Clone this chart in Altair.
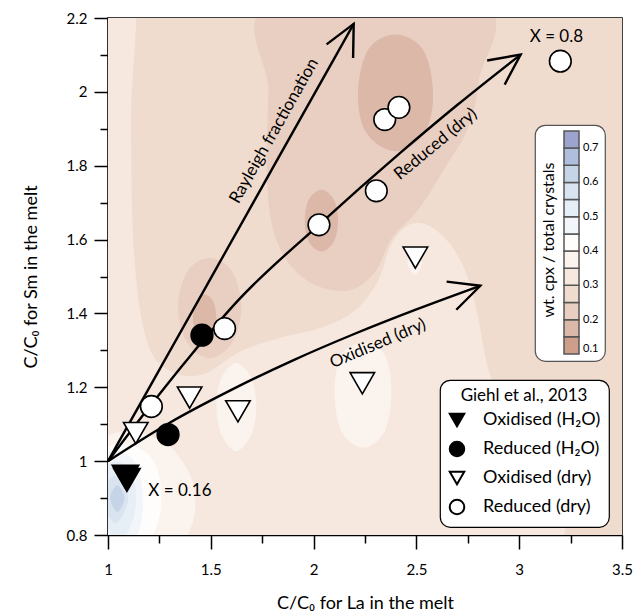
import altair as alt
import pandas as pd

FONT = "Lato"

# ---------------- axis tick values ----------------
x_major = [1, 1.5, 2, 2.5, 3, 3.5]
x_minor = [1.25, 1.75, 2.25, 2.75, 3.25]
y_major = [0.8, 1.0, 1.2, 1.4, 1.6, 1.8, 2.0, 2.2]
y_minor = [0.9, 1.1, 1.3, 1.5, 1.7, 1.9, 2.1]

# ---------------- Giehl et al., 2013 experiments ----------------
series_names = ["Oxidised (H₂O)", "Reduced (H₂O)", "Oxidised (dry)", "Reduced (dry)"]
series_fill = ["black", "black", "white", "white"]
series_shape = ["triangle-down", "circle", "triangle-down", "circle"]
series_size = [700, 470, 600, 470]

ox_h2o_x = [1.085, 1.092]
ox_h2o_y = [0.958, 0.949]
red_h2o_x = [1.457, 1.292]
red_h2o_y = [1.341, 1.072]
ox_dry_x = [1.135, 1.397, 1.632, 2.237, 2.495]
ox_dry_y = [1.076, 1.172, 1.135, 1.211, 1.551]
red_dry_x = [1.211, 1.567, 2.026, 2.305, 2.346, 2.415, 3.200]
red_dry_y = [1.148, 1.359, 1.640, 1.732, 1.925, 1.958, 2.083]

# ---------------- fractionation paths ----------------
rayleigh_x = [1.0, 2.195]
rayleigh_y = [1.0, 2.184]
reduced_x = [1.0, 1.2, 1.4, 1.634, 2.026, 2.42, 2.7, 3.007]
reduced_y = [1.0, 1.146, 1.285, 1.436, 1.640, 1.834, 1.965, 2.101]
oxidised_x = [1.0, 1.3, 1.6, 1.9, 2.2, 2.5, 2.811]
oxidised_y = [1.0, 1.104, 1.193, 1.273, 1.345, 1.411, 1.475]

arrow_names = ["Rayleigh", "Reduced", "Oxidised"]
arrow_tip_x = [2.195, 3.007, 2.811]
arrow_tip_y = [2.184, 2.101, 1.475]
arrow_tip_angle = [27, 54, 71]

# ---------------- annotations ----------------
note_text = ["Rayleigh fractionation", "Reduced (dry)", "Oxidised (dry)", "X = 0.8", "X = 0.16"]
note_x = [1.808, 2.594, 2.313, 3.181, 1.350]
note_y = [1.894, 1.858, 1.318, 2.148, 0.919]
note_angle = [299.4, 320.3, 337, 0, 0]

# ---------------- wt. cpx / total crystals field (contour bands) ----------------
band_domain = [0.1, 0.75]
band_colors = ["#cd9e8a", "#dcb8a9", "#e8cfc1", "#f0dccf", "#f6e8df", "#fbf3ee",
               "#fefdfc", "#f2f6fa", "#e6eef6", "#d9e4f0", "#c6d4e8", "#b0bedd", "#9ca3cd"]
# lower edges of the colour-bar blocks
colorbar_values = [0.1, 0.1501, 0.2001, 0.2501, 0.3001, 0.3501, 0.4001,
                   0.4501, 0.5001, 0.5501, 0.6001, 0.6501, 0.7001]

base_x = [0.3, 4.2, 4.2, 0.3]
base_y = [0.4, 0.4, 2.6, 2.6]
c_x = [0.864, 1.122, 1.112, 1.126, 1.180, 1.277, 1.452, 1.647, 1.841, 2.036, 2.201, 2.313,
       2.376, 2.459, 2.556, 2.668, 2.751, 2.800, 2.848, 2.931, 3.009, 3.077, 0.864]
c_y = [2.303, 2.303, 1.929, 1.569, 1.342, 1.252, 1.233, 1.298, 1.334, 1.361, 1.407, 1.488,
       1.585, 1.639, 1.639, 1.585, 1.496, 1.388, 1.252, 1.117, 0.981, 0.757, 0.678]
b1_x = [1.790, 1.780, 1.772, 1.798, 1.875, 2.007, 2.177, 2.299, 2.381, 2.508, 2.639, 2.751, 2.804, 2.814]
b1_y = [2.235, 2.005, 1.788, 1.639, 1.539, 1.477, 1.463, 1.512, 1.604, 1.680, 1.794, 1.902, 2.032, 2.235]
b2_x = [1.494, 1.603, 1.649, 1.603, 1.494, 1.386, 1.340, 1.386]
b2_y = [1.550, 1.514, 1.415, 1.320, 1.279, 1.320, 1.415, 1.514]
e1_x = [2.398, 2.532, 2.581, 2.540, 2.398, 2.256, 2.216, 2.265]
e1_y = [2.155, 2.114, 1.997, 1.889, 1.839, 1.889, 1.997, 2.114]
e2_x = [2.038, 2.099, 2.119, 2.099, 2.038, 1.976, 1.957, 1.976]
e2_y = [1.735, 1.708, 1.651, 1.595, 1.568, 1.595, 1.651, 1.708]
e3_x = [1.470, 1.511, 1.527, 1.511, 1.470, 1.430, 1.413, 1.430]
e3_y = [1.451, 1.433, 1.388, 1.343, 1.324, 1.343, 1.388, 1.433]
d1_x = [1.624, 1.697, 1.721, 1.697, 1.624, 1.551, 1.527, 1.551]
d1_y = [1.266, 1.225, 1.149, 1.072, 1.027, 1.072, 1.149, 1.225]
d2_x = [2.240, 2.346, 2.378, 2.346, 2.240, 2.135, 2.102, 2.135]
d2_y = [1.320, 1.288, 1.189, 1.081, 1.036, 1.081, 1.189, 1.288]
d3_x = [2.492, 2.527, 2.492, 2.456]
d3_y = [1.568, 1.537, 1.505, 1.537]
d4_x = [1.097, 1.308, 1.422, 1.373, 1.130, 0.903, 0.935]
d4_y = [1.081, 1.036, 0.918, 0.792, 0.738, 0.910, 1.036]
w1_x = [1.081, 1.211, 1.259, 1.227, 1.097, 0.919, 0.951]
w1_y = [1.045, 1.009, 0.918, 0.810, 0.756, 0.900, 1.018]
blue1_x = [1.032, 1.135, 1.170, 1.145, 1.032, 0.903, 0.935]
blue1_y = [1.030, 0.993, 0.900, 0.805, 0.750, 0.891, 0.990]
blue2_x = [1.041, 1.110, 1.138, 1.110, 1.041, 0.935, 0.959]
blue2_y = [1.000, 0.968, 0.900, 0.825, 0.785, 0.896, 0.968]
blue3_x = [1.036, 1.098, 1.036, 0.968]
blue3_y = [0.962, 0.900, 0.832, 0.900]
blue4_x = [1.045, 1.080, 1.045, 1.010]
blue4_y = [0.935, 0.900, 0.862, 0.900]

# (name, band value, drawing depth, xs, ys)
blobs = [
    ("base", 0.275, 0, base_x, base_y),
    ("C", 0.325, 1, c_x, c_y),
    ("B1", 0.225, 2, b1_x, b1_y),
    ("B2", 0.225, 2, b2_x, b2_y),
    ("D1", 0.375, 2, d1_x, d1_y),
    ("D2", 0.375, 2, d2_x, d2_y),
    ("D3", 0.375, 2, d3_x, d3_y),
    ("D4", 0.375, 2, d4_x, d4_y),
    ("E1", 0.175, 3, e1_x, e1_y),
    ("E2", 0.175, 3, e2_x, e2_y),
    ("E3", 0.175, 3, e3_x, e3_y),
    ("W1", 0.425, 3, w1_x, w1_y),
    ("Bl1", 0.475, 4, blue1_x, blue1_y),
    ("Bl2", 0.525, 5, blue2_x, blue2_y),
    ("Bl3", 0.575, 6, blue3_x, blue3_y),
    ("Bl4", 0.625, 7, blue4_x, blue4_y),
]

# ---------------- tables ----------------
rows = []
for name, level, depth, xs, ys in blobs:
    for i, (x, y) in enumerate(zip(xs, ys)):
        rows.append({"blob": name, "level": level, "depth": depth, "i": i, "x": x, "y": y})
contour_df = pd.DataFrame(rows)

prow = []
for s, sz, xs, ys in zip(series_names, series_size, [ox_h2o_x, red_h2o_x, ox_dry_x, red_dry_x],
                         [ox_h2o_y, red_h2o_y, ox_dry_y, red_dry_y]):
    for x, y in zip(xs, ys):
        prow.append({"series": s, "sz": sz, "x": x, "y": y})
points_df = pd.DataFrame(prow)

arow = []
for name, xs, ys in zip(arrow_names, [rayleigh_x, reduced_x, oxidised_x], [rayleigh_y, reduced_y, oxidised_y]):
    for i, (x, y) in enumerate(zip(xs, ys)):
        arow.append({"arrow": name, "i": i, "x": x, "y": y})
arrows_df = pd.DataFrame(arow)
tips_df = pd.DataFrame({"arrow": arrow_names, "x": arrow_tip_x, "y": arrow_tip_y, "ang": arrow_tip_angle})
notes_df = pd.DataFrame({"text": note_text, "x": note_x, "y": note_y, "ang": note_angle})

# ---------------- scales / legends ----------------
xscale = alt.Scale(domain=[1, 3.5], nice=False, zero=False)
yscale = alt.Scale(domain=[0.8, 2.2], nice=False, zero=False)
fill_scale = alt.Scale(type="quantize", domain=band_domain, range=band_colors, zero=False, nice=False)

fill_legend = alt.Legend(
    type="gradient", orient="none", legendX=427, legendY=107, direction="vertical",
    values=colorbar_values,
    labelExpr="abs(datum.value*10 - round(datum.value*10)) < 0.01 ? format(datum.value, '.1f') : ''",
    title="wt. cpx / total crystals", titleOrient="left", titleAnchor="middle",
    titleFont=FONT, titleFontSize=16, titleFontWeight="normal", titleColor="black", titlePadding=6,
    gradientLength=223, gradientThickness=15, gradientStrokeColor="#555555", gradientStrokeWidth=1.5,
    labelFont=FONT, labelFontSize=11, labelColor="black", labelOffset=4, labelOverlap=False,
    fillColor="white", strokeColor="#555555", cornerRadius=10, padding=6,
)

pts_legend = alt.Legend(
    orient="none", legendX=332, legendY=362, title="Giehl et al., 2013", titleAnchor="middle",
    titleFont=FONT, titleFontSize=17, titleFontWeight="normal", titleColor="black", titlePadding=6,
    labelFont=FONT, labelFontSize=18, labelColor="black", labelOffset=17,
    symbolSize=210, symbolStrokeColor="black", symbolStrokeWidth=2, rowPadding=6,
    padding=8, fillColor="white", strokeColor="black", cornerRadius=10,
)

main_x_axis = alt.Axis(values=x_major, format="~g", orient="bottom", tickSize=14, tickWidth=1.5,
                       tickColor="black", domainColor="black", domainWidth=1.5, grid=False,
                       labelFont=FONT, labelFontSize=15, labelColor="black", labelPadding=13,
                       labelFlush=False, title="C/C₀ for La in the melt", titleFont=FONT,
                       titleFontSize=18, titleFontWeight="normal", titleColor="black", titlePadding=17)
main_y_axis = alt.Axis(values=y_major, format="~g", orient="left", tickSize=14, tickWidth=1.5,
                       tickColor="black", domainColor="black", domainWidth=1.5, grid=False,
                       labelFont=FONT, labelFontSize=15, labelColor="black", labelPadding=7,
                       labelFlush=False, title="C/C₀ for Sm in the melt", titleFont=FONT,
                       titleFontSize=18, titleFontWeight="normal", titleColor="black", titlePadding=26)
minor_x_axis = alt.Axis(values=x_minor, orient="bottom", tickSize=8, tickWidth=1.5, tickColor="black",
                        labels=False, domain=False, grid=False, title="")
minor_y_axis = alt.Axis(values=y_minor, orient="left", tickSize=8, tickWidth=1.5, tickColor="black",
                        labels=False, domain=False, grid=False, title="")


def contour_layer(depth):
    return alt.Chart(contour_df).transform_filter(alt.datum.depth == depth).mark_line(
        interpolate="cardinal-closed", clip=True, strokeOpacity=0
    ).encode(
        x=alt.X("x:Q", scale=xscale, axis=None),
        y=alt.Y("y:Q", scale=yscale, axis=None),
        fill=alt.Fill("level:Q", scale=fill_scale, legend=fill_legend),
        detail="blob:N",
        order="i:Q",
    )


contours = [contour_layer(d) for d in range(8)]

arrows = alt.Chart(arrows_df).mark_line(color="black", strokeWidth=2.4, interpolate="monotone").encode(
    x=alt.X("x:Q", scale=xscale, axis=minor_x_axis),
    y=alt.Y("y:Q", scale=yscale, axis=minor_y_axis),
    detail="arrow:N",
    order="i:Q",
)

heads = alt.Chart(tips_df).mark_point(
    shape="M-0.438,0.899L0,0L0.438,0.899", filled=False, stroke="black", strokeWidth=2.4,
    size=4624, opacity=1, strokeJoin="miter"
).encode(
    x=alt.X("x:Q", scale=xscale, axis=None),
    y=alt.Y("y:Q", scale=yscale, axis=None),
    angle=alt.Angle("ang:Q", scale=None),
)

notes = alt.Chart(notes_df).mark_text(font=FONT, fontSize=17, color="black", baseline="middle", align="center").encode(
    x=alt.X("x:Q", scale=xscale, axis=None),
    y=alt.Y("y:Q", scale=yscale, axis=None),
    text="text:N",
    angle=alt.Angle("ang:Q", scale=None),
)

points = alt.Chart(points_df).mark_point(filled=True, stroke="black", strokeWidth=1.6, opacity=1).encode(
    x=alt.X("x:Q", scale=xscale, axis=main_x_axis),
    y=alt.Y("y:Q", scale=yscale, axis=main_y_axis),
    color=alt.Color("series:N", scale=alt.Scale(domain=series_names, range=series_fill), legend=pts_legend),
    shape=alt.Shape("series:N", scale=alt.Scale(domain=series_names, range=series_shape), legend=pts_legend),
    size=alt.Size("sz:Q", scale=None, legend=None),
)

chart = alt.layer(*contours, arrows, heads, notes, points).resolve_axis(
    x="independent", y="independent"
).properties(
    width=514, height=517,
    autosize=alt.AutoSizeParams(type="none"),
    padding={"left": 108, "top": 18, "right": 12, "bottom": 81},
).configure_view(stroke="black", strokeWidth=1.5).configure_legend(strokeWidth=1.2)

chart.save("out.html", embed_options={"renderer": "svg", "actions": False})
